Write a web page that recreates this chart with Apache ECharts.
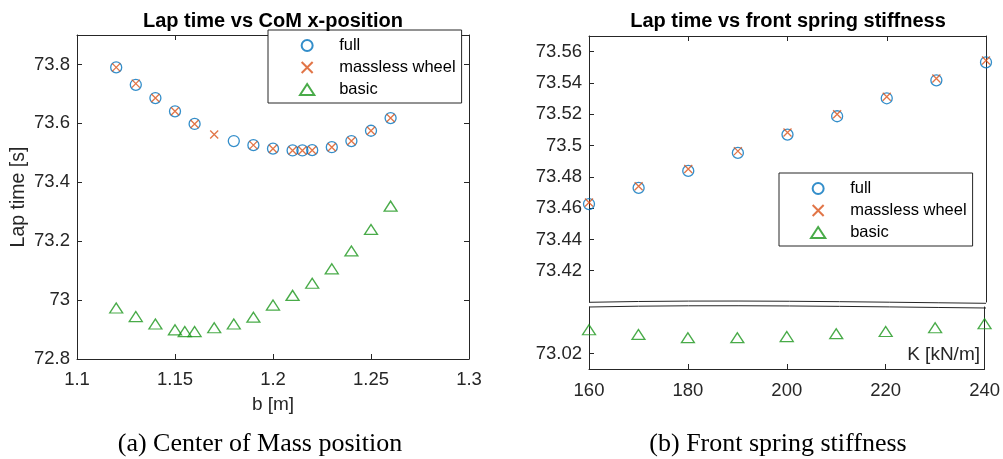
<!doctype html>
<html>
<head>
    <meta charset="utf-8">
    <title>Lap time</title>
    <style type="text/css">
        body, html {
            width: 100%;
            height: 100%;
            margin: 0;
            padding: 0;
            background: #fff;
        }
        #container { width: 1003px; height: 459px; }
    </style>
    <script src="https://cdn.jsdelivr.net/npm/echarts@6.0.0/dist/echarts.min.js"></script>
</head>
<body>
<div id="container"></div>
<script type="text/javascript">
    // (a) lap time vs CoM x-position
    const fullB = [1.12, 1.13, 1.14, 1.15, 1.16, 1.18, 1.19, 1.20, 1.21, 1.215, 1.22, 1.23, 1.24, 1.25, 1.26];
    const fullT = [73.790, 73.731, 73.686, 73.641, 73.598, 73.540, 73.526, 73.514, 73.508, 73.508, 73.509, 73.519, 73.540, 73.575, 73.618];
    const masslessB = [1.12, 1.13, 1.14, 1.15, 1.16, 1.17, 1.19, 1.20, 1.21, 1.215, 1.22, 1.23, 1.24, 1.25, 1.26];
    const masslessT = [73.790, 73.735, 73.686, 73.641, 73.598, 73.562, 73.526, 73.514, 73.508, 73.508, 73.509, 73.519, 73.540, 73.575, 73.618];
    const basicB = [1.12, 1.13, 1.14, 1.15, 1.155, 1.16, 1.17, 1.18, 1.19, 1.20, 1.21, 1.22, 1.23, 1.24, 1.25, 1.26];
    const basicT = [72.973, 72.944, 72.919, 72.899, 72.893, 72.893, 72.906, 72.919, 72.942, 72.983, 73.016, 73.057, 73.106, 73.167, 73.240, 73.319];

    // (b) lap time vs front spring stiffness
    const stiffK = [160, 170, 180, 190, 200, 210, 220, 230, 240];
    const fullK = [73.4626, 73.4729, 73.4838, 73.4953, 73.5070, 73.5187, 73.5302, 73.5417, 73.5532];
    const masslessK = [73.4636, 73.4740, 73.4850, 73.4964, 73.5083, 73.5200, 73.5312, 73.5428, 73.5543];
    const basicK = [73.0353, 73.0323, 73.0302, 73.0302, 73.0309, 73.0328, 73.0342, 73.0366, 73.0392];

    const lowerTickLabels = [73.02];

    const BLUE = '#0072BD', ORANGE = '#D95319', GREEN = '#1c961c', AX = '#262626';
    const SANS = 'Liberation Sans, Arial, sans-serif';
    const SERIF = 'Liberation Serif, Times New Roman, serif';

    const pairs = (xs, ys) => xs.map((x, i) => [x, ys[i]]);

    function axis(extra) {
        const a = {
            type: 'value',
            axisLine: { show: true, onZero: false, lineStyle: { color: AX, width: 1 } },
            axisTick: { show: true, inside: true, length: 5, lineStyle: { color: AX } },
            axisLabel: { show: false, color: AX, fontFamily: SANS, fontSize: 18.5 },
            splitLine: { show: false }
        };
        for (const k in extra) {
            if (typeof extra[k] === 'object' && !Array.isArray(extra[k]) && a[k]) {
                a[k] = Object.assign({}, a[k], extra[k]);
            } else {
                a[k] = extra[k];
            }
        }
        return a;
    }

    const xLeft = { min: 1.1, max: 1.3, interval: 0.05 };
    const yLeft = { min: 72.8, max: 73.9, interval: 0.2 };
    const xRight = { min: 160, max: 240, interval: 20 };
    const yUpper = { min: 73.40, max: 73.57, interval: 0.02 };
    const yLower = { min: 73.01, max: 73.05 };

    const circleStyle = { symbol: 'circle', symbolSize: 11, itemStyle: { color: 'rgba(0,0,0,0)', borderColor: BLUE, borderWidth: 1.3 } };
    const crossStyle = { symbol: 'path://M0,0L10,10M10,0L0,10', symbolSize: 8, itemStyle: { color: 'rgba(0,0,0,0)', borderColor: ORANGE, borderWidth: 1.3 } };
    const triStyle = { symbol: 'path://M0,10L6.5,0L13,10Z', symbolSize: [13, 10], itemStyle: { color: 'rgba(0,0,0,0)', borderColor: GREEN, borderWidth: 1.3 } };

    const legendBase = {
        orient: 'vertical',
        data: ['full', 'massless wheel', 'basic'],
        itemWidth: 54,
        itemHeight: 11,
        itemGap: 5,
        padding: [7, 6, 5, 31],
        borderColor: AX,
        borderWidth: 1,
        backgroundColor: '#fff',
        textStyle: { fontFamily: SANS, fontSize: 16.5, color: '#000' },
        selectedMode: false
    };

    // right panel geometry, used for the axis break
    const RX0 = 589, RX1 = 986, BREAK_Y = 302;

    function wave(dy) {
        return {
            type: 'bezierCurve',
            silent: true,
            z: 10,
            shape: {
                x1: RX0, y1: BREAK_Y + 0.3 + dy,
                cpx1: 720, cpy1: BREAK_Y - 2.5 + dy,
                cpx2: 860, cpy2: BREAK_Y + dy,
                x2: RX1, y2: BREAK_Y + 1.3 + dy
            },
            style: { stroke: AX, lineWidth: 1, fill: null }
        };
    }

    const chart = echarts.init(document.getElementById('container'), null, { renderer: 'canvas' });

    const option = {
        animation: false,
        backgroundColor: '#fff',
        title: [
            { text: 'Lap time vs CoM x-position', left: 273, top: 11, textAlign: 'center', padding: 0,
              textStyle: { fontFamily: SANS, fontSize: 20, fontWeight: 'bold', color: '#000' } },
            { text: 'Lap time vs front spring stiffness', left: 788, top: 11, textAlign: 'center', padding: 0,
              textStyle: { fontFamily: SANS, fontSize: 20, fontWeight: 'bold', color: '#000' } },
            { text: 'K [kN/m]', right: 23, top: 345, padding: 0,
              textStyle: { fontFamily: SANS, fontSize: 19, fontWeight: 'normal', color: AX } },
            { text: '(a) Center of Mass position', left: 260, top: 431, textAlign: 'center', padding: 0,
              textStyle: { fontFamily: SERIF, fontSize: 26, fontWeight: 'normal', color: '#000' } },
            { text: '(b) Front spring stiffness', left: 778, top: 431, textAlign: 'center', padding: 0,
              textStyle: { fontFamily: SERIF, fontSize: 26, fontWeight: 'normal', color: '#000' } }
        ],
        legend: [
            Object.assign({}, legendBase, { left: 268, top: 30 }),
            Object.assign({}, legendBase, { left: 779, top: 173 })
        ],
        grid: [
            { left: 77, right: 534, top: 35, bottom: 100 },
            { left: RX0, right: 1003 - RX1, top: 36, bottom: 459 - BREAK_Y },
            { left: RX0, right: 1003 - RX1, top: 307, bottom: 90 }
        ],
        xAxis: [
            axis(Object.assign({ gridIndex: 0, position: 'bottom', name: 'b [m]', nameLocation: 'middle', nameGap: 36,
                nameTextStyle: { fontFamily: SANS, fontSize: 19, color: AX },
                axisLabel: { show: true, margin: 11 } }, xLeft)),
            axis(Object.assign({ gridIndex: 0, position: 'top' }, xLeft)),
            axis(Object.assign({ gridIndex: 1, position: 'top' }, xRight)),
            axis(Object.assign({ gridIndex: 2, position: 'bottom', axisLabel: { show: true, margin: 12 } }, xRight))
        ],
        yAxis: [
            axis(Object.assign({ gridIndex: 0, position: 'left', name: 'Lap time [s]', nameLocation: 'middle', nameGap: 48,
                nameTextStyle: { fontFamily: SANS, fontSize: 19.5, color: AX },
                axisLabel: { show: true, margin: 7, showMaxLabel: false } }, yLeft)),
            axis(Object.assign({ gridIndex: 0, position: 'right' }, yLeft)),
            axis(Object.assign({ gridIndex: 1, position: 'left',
                axisLabel: { show: true, margin: 7, showMaxLabel: false, showMinLabel: false } }, yUpper)),
            axis(Object.assign({ gridIndex: 1, position: 'right', axisTick: { show: false } }, yUpper)),
            axis(Object.assign({ gridIndex: 2, position: 'left',
                axisTick: { customValues: lowerTickLabels },
                axisLabel: { show: true, margin: 7, customValues: lowerTickLabels } }, yLower)),
            axis(Object.assign({ gridIndex: 2, position: 'right', axisTick: { show: false } }, yLower))
        ],
        series: [
            Object.assign({ name: 'full', type: 'scatter', xAxisIndex: 0, yAxisIndex: 0, data: pairs(fullB, fullT) }, circleStyle),
            Object.assign({ name: 'massless wheel', type: 'scatter', xAxisIndex: 0, yAxisIndex: 0, data: pairs(masslessB, masslessT) }, crossStyle),
            Object.assign({ name: 'basic', type: 'scatter', xAxisIndex: 0, yAxisIndex: 0, data: pairs(basicB, basicT) }, triStyle),
            Object.assign({ name: 'full', type: 'scatter', xAxisIndex: 2, yAxisIndex: 2, data: pairs(stiffK, fullK) }, circleStyle),
            Object.assign({ name: 'massless wheel', type: 'scatter', xAxisIndex: 2, yAxisIndex: 2, data: pairs(stiffK, masslessK) }, crossStyle),
            Object.assign({ name: 'basic', type: 'scatter', xAxisIndex: 3, yAxisIndex: 4, data: pairs(stiffK, basicK) }, triStyle)
        ],
        graphic: [wave(0), wave(4.7)]
    };

    chart.setOption(option);
</script>
</body>
</html>
